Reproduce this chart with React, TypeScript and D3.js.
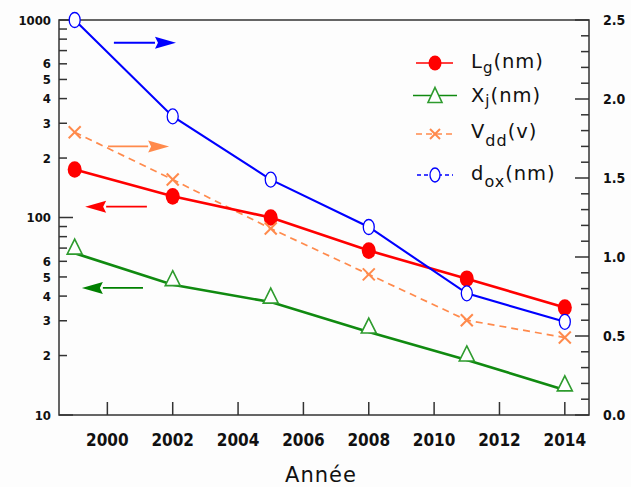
import React from "react";
import * as d3 from "d3";

const years = [1999, 2002, 2005, 2008, 2011, 2014];
const lgValues = [175, 128, 100, 68, 49, 35];
const xjValues = [66, 45.7, 37.3, 26.3, 19, 13.4];
const vddValues = [1.79, 1.49, 1.18, 0.89, 0.6, 0.49];
const doxValues = [2.5, 1.89, 1.49, 1.19, 0.77, 0.59];

const xTickYears = [2000, 2002, 2004, 2006, 2008, 2010, 2012, 2014];
const leftTickValues = [10, 20, 30, 40, 50, 60, 70, 80, 90, 100, 200, 300, 400, 500, 600, 700, 800, 900, 1000];
const leftLabelValues = [10, 20, 30, 40, 50, 60, 100, 200, 300, 400, 500, 600, 1000];
const rightTickValues = [0, 0.1, 0.2, 0.3, 0.4, 0.5, 0.6, 0.7, 0.8, 0.9, 1.0, 1.1, 1.2, 1.3, 1.4, 1.5, 1.6, 1.7, 1.8, 1.9, 2.0, 2.1, 2.2, 2.3, 2.4, 2.5];
const rightLabelValues = [0, 0.5, 1.0, 1.5, 2.0, 2.5];

// arrows: start year, tip year, value, axis
const arrowStarts = [2000.2, 2000.02, 2001.21, 2001.09];
const arrowTips = [2002.1, 2001.89, 1999.32, 1999.22];
const arrowValues = [2.356, 1.7, 113.4, 44];
const arrowAxes = ["right", "right", "left", "left"];
const arrowColors = ["#0000ff", "#ff8a4c", "#ff0000", "#008000"];

const RED = "#ff0000";
const GREEN = "#108a10";
const GREEN_M = "#2e9b2e";
const ORANGE = "#ff8a4c";
const BLUE = "#0000ff";
const AXIS = "#333333";

const axisFont = "'DejaVu Sans Condensed', 'DejaVu Sans', sans-serif";
const textFont = "'DejaVu Sans', Verdana, sans-serif";

export default function App() {
  const W = 631, H = 487;
  const L = 59, R = 589, T = 20, B = 415;
  const x = d3.scaleLinear().domain([1998.52, 2014.74]).range([L, R]);
  const yL = d3.scaleLog().domain([10, 1000]).range([B, T]);
  const yR = d3.scaleLinear().domain([0, 2.5]).range([B, T]);

  const mk = (vals: number[], s: (v: number) => number) =>
    d3.line<number>().x((_, i) => x(years[i])).y((v) => s(v))(vals) || "";

  const isPow10 = (v: number) => Math.abs(Math.log10(v) - Math.round(Math.log10(v))) < 1e-9;

  const triPath = (cx: number, cy: number) =>
    `M${cx},${cy - 14}L${cx + 7.5},${cy + 1}L${cx - 7.5},${cy + 1}Z`;
  const triPathC = (cx: number, cy: number) =>
    `M${cx},${cy - 8}L${cx + 7},${cy + 7}L${cx - 7},${cy + 7}Z`;

  const legendX1 = 416, legendX2 = 453, legendMX = 435, legendTX = 471;

  return (
    <svg width={W} height={H} style={{ position: "absolute", left: 0, top: 0, background: "#fff" }}>
      <rect x={0} y={0} width={W} height={H} fill="#fdfdfd" />
      {/* frame */}
      <rect x={L} y={T} width={R - L} height={B - T} fill="none" stroke={AXIS} strokeWidth={1.5} />

      {/* left ticks */}
      {leftTickValues.map((v) => (
        <line key={"lt" + v} x1={L} x2={L + (isPow10(v) ? 14 : 8)} y1={yL(v)} y2={yL(v)} stroke={AXIS} strokeWidth={1.5} />
      ))}
      {leftLabelValues.map((v) => (
        <text key={"ll" + v} x={51} y={yL(v)} dy="0.36em" textAnchor="end" fontFamily={axisFont}
          fontWeight="bold" fontSize={13} fill="#111">
          {isPow10(v) ? String(v) : String(Math.round(v / Math.pow(10, Math.floor(Math.log10(v) + 1e-9))))}
        </text>
      ))}

      {/* right ticks */}
      {rightTickValues.map((v) => {
        const major = Math.abs(v * 2 - Math.round(v * 2)) < 1e-9;
        return (
          <line key={"rt" + v} x1={R} x2={R - (major ? 14 : 8)} y1={yR(v)} y2={yR(v)} stroke={AXIS} strokeWidth={1.5} />
        );
      })}
      {rightLabelValues.map((v) => (
        <text key={"rl" + v} x={603} y={yR(v)} dy="0.36em" textAnchor="start" fontFamily={axisFont}
          fontWeight="bold" fontSize={14} fill="#111">
          {v.toFixed(1)}
        </text>
      ))}

      {/* bottom ticks */}
      {xTickYears.map((yr) => (
        <g key={"xt" + yr}>
          <line x1={x(yr)} x2={x(yr)} y1={B} y2={B - 13} stroke={AXIS} strokeWidth={1.5} />
          <text x={x(yr)} y={446} textAnchor="middle" fontFamily={axisFont} fontWeight="bold" fontSize={17} fill="#111">
            {yr}
          </text>
        </g>
      ))}
      <text x={321} y={482} textAnchor="middle" fontFamily={textFont} fontSize={21} letterSpacing={1} fill="#111">
        Année
      </text>

      {/* arrows */}
      {arrowStarts.map((x0, i) => {
        const s = arrowAxes[i] === "left" ? yL : yR;
        const yy = s(arrowValues[i]);
        const xa = x(x0), xt = x(arrowTips[i]);
        const dir = xt > xa ? 1 : -1;
        const hb = xt - dir * 21;
        return (
          <g key={"ar" + i}>
            <line x1={xa} x2={hb} y1={yy} y2={yy} stroke={arrowColors[i]} strokeWidth={1.8} />
            <path d={`M${xt},${yy}L${hb},${yy - 6}L${hb + dir * 3},${yy}L${hb},${yy + 6}Z`} fill={arrowColors[i]} />
          </g>
        );
      })}

      {/* series lines */}
      <path d={mk(vddValues, yR)} fill="none" stroke={ORANGE} strokeWidth={1.7} strokeDasharray="7,5" />
      <path d={mk(xjValues, yL)} fill="none" stroke={GREEN} strokeWidth={2.6} />
      <path d={mk(lgValues, yL)} fill="none" stroke={RED} strokeWidth={2.6} />
      <path d={mk(doxValues, yR)} fill="none" stroke={BLUE} strokeWidth={2.1} />

      {/* markers */}
      {years.map((yr, i) => (
        <g key={"m" + yr}>
          <path d={triPath(x(yr), yL(xjValues[i]))} fill="#fff" stroke={GREEN_M} strokeWidth={1.6} />
          <ellipse cx={x(yr)} cy={yL(lgValues[i])} rx={7} ry={8.3} fill={RED} />
          <g stroke={ORANGE} strokeWidth={2}>
            <line x1={x(yr) - 6} x2={x(yr) + 6} y1={yR(vddValues[i]) - 6} y2={yR(vddValues[i]) + 6} />
            <line x1={x(yr) - 6} x2={x(yr) + 6} y1={yR(vddValues[i]) + 6} y2={yR(vddValues[i]) - 6} />
          </g>
          <ellipse cx={x(yr)} cy={yR(doxValues[i])} rx={5.5} ry={7.5} fill="#fff" stroke={BLUE} strokeWidth={1.3} />
        </g>
      ))}

      {/* legend */}
      <g fontFamily={textFont} fill="#111" letterSpacing={1}>
        <line x1={legendX1} x2={legendX2} y1={63} y2={63} stroke={RED} strokeWidth={1.5} />
        <ellipse cx={legendMX} cy={63} rx={6.5} ry={7.5} fill={RED} />
        <text x={legendTX} y={68} fontSize={19.5}>
          L<tspan fontSize={15} dy={5}>g</tspan><tspan dy={-5}>(nm)</tspan>
        </text>

        <line x1={413} x2={457} y1={95.5} y2={95.5} stroke={GREEN} strokeWidth={1.5} />
        <path d={triPathC(legendMX, 95.5)} fill="#fff" stroke={GREEN_M} strokeWidth={1.6} />
        <text x={legendTX} y={102} fontSize={19.5}>
          X<tspan fontSize={15} dy={4}>j</tspan><tspan dy={-4}>(nm)</tspan>
        </text>

        <line x1={legendX1} x2={legendX2} y1={134} y2={134} stroke={ORANGE} strokeWidth={1.5} strokeDasharray="6,4" />
        <g stroke={ORANGE} strokeWidth={2}>
          <line x1={legendMX - 5} x2={legendMX + 5} y1={129} y2={139} />
          <line x1={legendMX - 5} x2={legendMX + 5} y1={139} y2={129} />
        </g>
        <text x={legendTX} y={138} fontSize={19.5}>
          V<tspan fontSize={16} dy={8}>dd</tspan><tspan dy={-8}>(v)</tspan>
        </text>

        <line x1={417} x2={453} y1={175} y2={175} stroke={BLUE} strokeWidth={1.3} strokeDasharray="4,3" />
        <ellipse cx={legendMX} cy={175} rx={5} ry={7} fill="#fff" stroke={BLUE} strokeWidth={1.3} />
        <text x={legendTX} y={180} fontSize={19.5}>
          d<tspan fontSize={16} dy={7}>ox</tspan><tspan dy={-7}>(nm)</tspan>
        </text>
      </g>
    </svg>
  );
}
